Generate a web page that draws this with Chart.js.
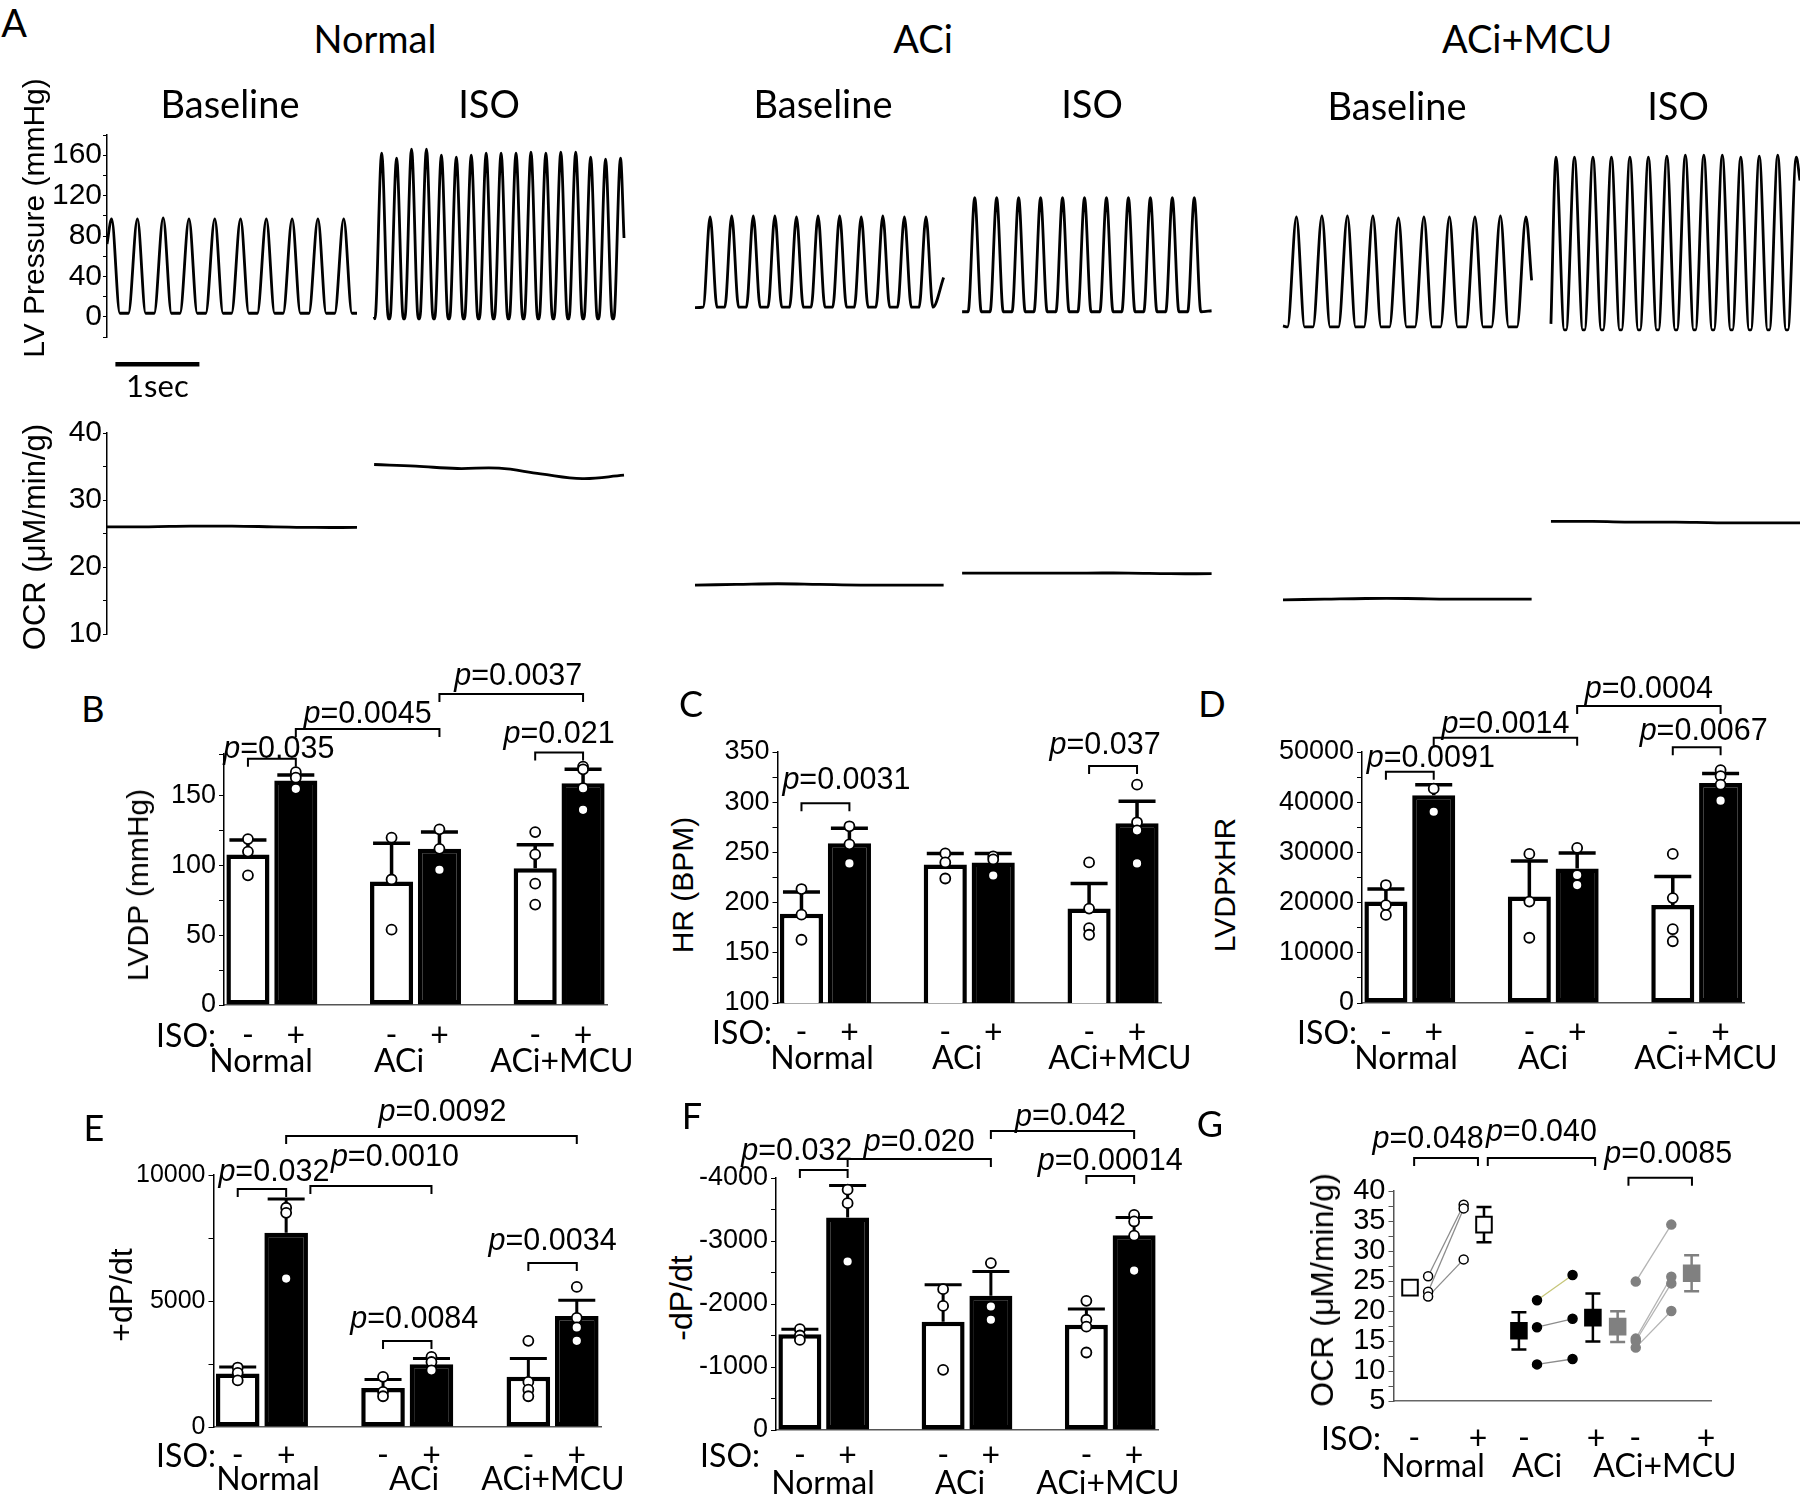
<!DOCTYPE html>
<html>
<head>
<meta charset="utf-8">
<title>LV pressure, OCR and contractility</title>
<script src="https://cdn.jsdelivr.net/npm/chart.js@4.4.1/dist/chart.umd.min.js"></script>
<style>
  body { margin: 0; background: #fff; }
  #page { position: relative; width: 1800px; height: 1494px; overflow: hidden; background: #fff; }
  canvas { position: absolute; }
  .t { position: absolute; white-space: nowrap; color: #000; line-height: 1; transform: translate(-50%, -50%); }
  .cal { font-family: Lato, "Open Sans", sans-serif; }
  .ari { font-family: "Liberation Sans", Arial, sans-serif; }
  .rot { transform: translate(-50%, -50%) rotate(-90deg); }
  .rgt { transform: translate(-100%, -50%); }
</style>
</head>
<body>
<div id="page"></div>
<script>
// ---------- values ----------
const groups = ['Normal', 'ACi', 'ACi+MCU'];
const isoSigns = ['-', '+'];

// Panel A, six recordings: Normal base/ISO, ACi base/ISO, ACi+MCU base/ISO (time in s)
const traceStart = [0, 3.18, 7.0, 10.18, 14.0, 17.19];
const traceEnd = [2.976, 6.155, 9.96, 13.15, 16.96, 20.155];
const beatFirstPeak = [0.055, 3.27, 7.18, 10.33, 14.16, 17.25];
const beatPeriod = [0.307, 0.1777, 0.257, 0.2614, 0.3036, 0.22];
const lvPeaks = [
  [97, 97, 98, 97, 97, 97, 97, 97, 97, 97],
  [162, 157, 166, 166, 160, 158, 160, 162, 162, 162, 163, 162, 163, 163, 158, 156, 157],
  [99, 100, 100, 100, 99, 100, 100, 99, 100, 99, 99],
  [118, 118, 118, 118, 118, 118, 118, 118, 118, 118, 118],
  [99, 100, 100, 100, 98, 99, 99, 99, 100, 99],
  [158, 158, 158, 158, 158, 158, 159, 160, 160, 160, 158, 159, 160, 158]
];
const lvTrough = [3.5, -2, 9.5, 5, -10, -13];
const lvStartValue = [72, 0, 9, 5, -9, -7];
const lvEndValue = [3.5, 78, 39, 6, 36, 135];
const ocrTrace = [
  [26.0, 26.0, 26.1, 26.1, 26.0, 25.9, 25.9],
  [35.3, 35.05, 34.7, 34.75, 33.9, 33.2, 33.7],
  [17.3, 17.4, 17.5, 17.4, 17.3, 17.3, 17.3],
  [19.1, 19.1, 19.1, 19.1, 19.1, 19.0, 19.0],
  [15.1, 15.2, 15.3, 15.3, 15.2, 15.2, 15.2],
  [26.8, 26.8, 26.7, 26.7, 26.6, 26.6, 26.6]
];

// Panels B-F, order: Normal -, Normal +, ACi -, ACi +, ACi+MCU -, ACi+MCU +
const lvdpMean = [108, 161, 88.5, 112, 98, 159];
const lvdpSem = [10.4, 4, 27.5, 12, 17, 10];
const lvdpDots = [[119, 110, 93], [167, 163, 155], [120, 90, 54], [126, 112, 97], [124, 108, 87, 72], [171, 169, 155.5, 140]];

const hrMean = [189, 259, 238, 240, 194, 279];
const hrSem = [21.6, 15, 11, 9, 25, 22];
const hrDots = [[213.5, 188, 163], [276, 258, 239], [249, 240, 224], [246, 243, 227], [240, 194, 174.5, 168], [317.5, 280, 272, 239]];

const rppMean = [20200, 41400, 21200, 26800, 19500, 43800];
const rppSem = [2500, 2100, 7100, 3100, 5700, 1900];
const rppDots = [[23500, 19500, 17550], [42700, 38100], [29700, 20200, 13000], [30900, 25500, 23500], [29700, 20900, 14700, 12300], [46400, 45200, 43500, 40300]];

const dpUpMean = [2120, 7710, 1550, 2490, 1990, 4400];
const dpUpSem = [260, 1340, 330, 230, 730, 630];
const dpUpDots = [[2360, 2150, 1850], [8700, 8500, 5890], [1990, 1390, 1220], [2780, 2580, 2250], [3420, 1790, 1480, 1220], [5560, 4330, 3950, 3420]];

const dpDownMean = [-1520, -3375, -1720, -2130, -1670, -3090];
const dpDownSem = [80, 505, 585, 385, 250, 285];
const dpDownDots = [[-1600, -1500, -1430], [-3815, -3600, -2675], [-2235, -1970, -955], [-2650, -1960, -1750], [-2050, -1750, -1640, -1230], [-3415, -3310, -3085, -2530]];

// Panel G, OCR (uM/min/g)
const ocrMean = [23.9, 34.4, 16.7, 18.9, 17.4, 26.3];
const ocrSem = [0.9, 2.95, 3.1, 4.0, 2.55, 3.0];
const ocrBefore = [[25.8, 23.2, 22.4], [21.8, 17.3, 11.1], [24.9, 15.4, 15.0, 13.9]];
const ocrAfter = [[37.7, 37.1, 28.6], [26.0, 18.7, 12.0], [34.4, 25.7, 24.6, 20.0]];

// p-value annotations: [label, from, to, bracket height, text height (axis units), text shift px]
const pB = [['0.035', 0, 1, 176.6, 183, 7], ['0.0045', 1, 4, 198, 208, 0], ['0.0037', 4, 7, 223, 235.5, 7], ['0.021', 6, 7, 181, 194, 0]];
const pC = [['0.0031', 0, 1, 299, 322, 21], ['0.037', 6, 7, 336, 356, -8]];
const pD = [['0.0091', 0, 1, 46076, 48740, 21], ['0.0014', 1, 4, 52850, 55380, 0], ['0.0004', 4, 7, 59160, 62490, 0], ['0.0067', 6, 7, 50930, 54050, 7]];
const pE = [['0.032', 0, 1, 9444, 10079, 12], ['0.0010', 1.5, 4, 9563, 10675, 24], ['0.0092', 1, 7, 11548, 12460, 11], ['0.0084', 3, 4, 3413, 4246, 7], ['0.0034', 6, 7, 6508, 7341, 0]];
const pF = [['0.032', 0, 1, -4127, -4413, -27], ['0.020', 1, 4, -4302, -4556, 0], ['0.042', 4, 7, -4746, -4968, 8], ['0.00014', 6, 7, -4032, -4254, 0]];
const pG = [['0.048', 0.65, 2.66, 45.5, 48.5, -18], ['0.040', 2.97, 6.35, 45.5, 49.7, 0], ['0.0085', 7.4, 9.4, 42.2, 46, 8]];

// ---------- setup ----------
Chart.defaults.font.family = '"Liberation Sans", Arial, sans-serif';
Chart.defaults.color = '#000';
Chart.defaults.animation = false;
Chart.defaults.events = [];
Chart.defaults.plugins.legend.display = false;
Chart.defaults.plugins.tooltip.enabled = false;

const page = document.getElementById('page');

function makeCanvas(x, y, w, h) {
  const c = document.createElement('canvas');
  c.width = w; c.height = h;
  c.style.left = x + 'px'; c.style.top = y + 'px';
  c.style.width = w + 'px'; c.style.height = h + 'px';
  page.appendChild(c);
  return c;
}

function addText(txt, x, y, cls, size) {
  const d = document.createElement('div');
  d.className = 't ' + cls;
  d.style.left = x + 'px'; d.style.top = y + 'px';
  d.style.fontSize = size + 'px';
  d.textContent = txt;
  page.appendChild(d);
}

const P_FONT = 30.5;
function pLabel(ctx, val, cx, cy) {
  ctx.font = 'italic ' + P_FONT + 'px "Liberation Sans"';
  const w1 = ctx.measureText('p').width;
  ctx.font = P_FONT + 'px "Liberation Sans"';
  const w2 = ctx.measureText('=' + val).width;
  const x0 = cx - (w1 + w2) / 2;
  ctx.textAlign = 'left';
  ctx.textBaseline = 'middle';
  ctx.font = 'italic ' + P_FONT + 'px "Liberation Sans"';
  ctx.fillText('p', x0, cy);
  ctx.font = P_FONT + 'px "Liberation Sans"';
  ctx.fillText('=' + val, x0 + w1, cy);
}

function drawBrackets(chart, list) {
  const { ctx, scales: { x, y } } = chart;
  ctx.save();
  ctx.strokeStyle = '#000';
  ctx.fillStyle = '#000';
  ctx.lineWidth = 2;
  list.forEach(([val, a, b, level, textLevel, dx]) => {
    const xa = x.getPixelForValue(a), xb = x.getPixelForValue(b), yt = y.getPixelForValue(level);
    ctx.beginPath();
    ctx.moveTo(xa, yt + 8); ctx.lineTo(xa, yt); ctx.lineTo(xb, yt); ctx.lineTo(xb, yt + 8);
    ctx.stroke();
    pLabel(ctx, val, (xa + xb) / 2 + dx, y.getPixelForValue(textLevel));
  });
  ctx.restore();
}

// ---------- panel A ----------
const shapeRise = [0.35, 0.45, 0.32, 0.3, 0.35, 0.45];
const shapeFall = [0.32, 0.45, 0.32, 0.3, 0.32, 0.45];

function beatPoints(k) {
  const P = beatPeriod[k], rise = shapeRise[k] * P, fall = shapeFall[k] * P;
  const pts = [{ x: traceStart[k], y: lvStartValue[k] }];
  lvPeaks[k].forEach((pk, i) => {
    const tp = beatFirstPeak[k] + i * P;
    if (tp - rise > pts[pts.length - 1].x) pts.push({ x: tp - rise, y: lvTrough[k] });
    pts.push({ x: tp, y: pk });
    if (tp + fall < traceEnd[k]) pts.push({ x: tp + fall, y: lvTrough[k] });
  });
  pts.push({ x: traceEnd[k], y: lvEndValue[k] });
  return pts;
}

function ocrPoints(k) {
  const vals = ocrTrace[k], step = (traceEnd[k] - traceStart[k]) / (vals.length - 1);
  return vals.map((v, i) => ({ x: traceStart[k] + i * step, y: v }));
}

function traceAxis(min, max, step, every, width) {
  return {
    min: min, max: max,
    afterFit: s => { s.width = width; },
    ticks: { stepSize: step, font: { size: 30 }, padding: 1, autoSkip: false,
      callback: v => (v % every === 0 && v >= 0 && v < 170) ? String(v) : '' },
    grid: { drawOnChartArea: false, tickLength: 4, color: '#000' },
    border: { color: '#000', width: 1.5 }
  };
}

const scaleBar = {
  id: 'scaleBar',
  afterDraw(chart) {
    const { ctx, scales: { x } } = chart;
    const x0 = x.getPixelForValue(0.1), x1 = x.getPixelForValue(1.1);
    ctx.save();
    ctx.fillStyle = '#000';
    ctx.fillRect(x0, 262, x1 - x0, 4.5);
    ctx.font = '31px Lato';
    ctx.textAlign = 'center';
    ctx.textBaseline = 'middle';
    ctx.fillText('1sec', (x0 + x1) / 2, 287);
    ctx.restore();
  }
};

new Chart(makeCanvas(0, 100, 1800, 300), {
  type: 'line',
  data: { datasets: lvPeaks.map((p, k) => ({
    data: beatPoints(k), borderColor: '#000', borderWidth: 2.8, pointRadius: 0,
    cubicInterpolationMode: 'monotone', borderJoinStyle: 'round'
  })) },
  options: {
    responsive: false, devicePixelRatio: 1,
    layout: { padding: { top: 35, bottom: 63, left: 0, right: 0 } },
    scales: {
      x: { type: 'linear', min: 0, max: 20.155, display: false },
      y: traceAxis(-20, 180, 20, 40, 107)
    }
  },
  plugins: [scaleBar]
});

new Chart(makeCanvas(0, 400, 1800, 260), {
  type: 'line',
  data: { datasets: ocrTrace.map((v, k) => ({
    data: ocrPoints(k), borderColor: '#000', borderWidth: 2.8, pointRadius: 0, tension: 0.4
  })) },
  options: {
    responsive: false, devicePixelRatio: 1,
    layout: { padding: { top: 33, bottom: 26, left: 0, right: 0 } },
    scales: {
      x: { type: 'linear', min: 0, max: 20.155, display: false },
      y: traceAxis(10, 40, 5, 10, 107)
    }
  }
});

// ---------- panels B-F ----------
const slotLabels = [];
groups.forEach((g, gi) => {
  if (gi) slotLabels.push(' '.repeat(gi));
  isoSigns.forEach(s => slotLabels.push(g + ' ' + s));
});
const slotOf = i => i + Math.floor(i / 2);
const toSlots = arr => slotLabels.map((l, s) => {
  const i = s - Math.floor(s / 3);
  return l.trim() === '' ? null : arr[i];
});
const signOf = l => l.endsWith('-') ? '-' : (l.endsWith('+') ? '+' : '');

function makeBarPanel(p) {
  const [left, top, w, h] = p.box;
  const extras = {
    id: 'extras' + p.name,
    afterDatasetDraw(chart, args) {
      if (args.index !== 1) return;
      const { ctx, scales: { x, y } } = chart;
      ctx.save();
      ctx.strokeStyle = '#000';
      ctx.lineWidth = p.errLine;
      p.mean.forEach((m, i) => {
        const tip = m < 0 ? m - p.sem[i] : m + p.sem[i];
        const px = x.getPixelForValue(slotOf(i));
        const y0 = y.getPixelForValue(m), y1 = y.getPixelForValue(tip);
        ctx.beginPath();
        ctx.moveTo(px, y0); ctx.lineTo(px, y1);
        ctx.moveTo(px - 18.5, y1); ctx.lineTo(px + 18.5, y1);
        ctx.stroke();
      });
      ctx.restore();
    },
    afterDraw(chart) { drawBrackets(chart, p.brackets); }
  };
  const dots = [];
  p.dots.forEach((list, i) => list.forEach(v => dots.push({ x: slotLabels[slotOf(i)], y: v })));
  new Chart(makeCanvas(left, top, w, h), {
    type: 'bar',
    data: {
      labels: slotLabels,
      datasets: [
        { type: 'scatter', data: dots, pointRadius: 5, pointBackgroundColor: '#fff',
          pointBorderColor: '#000', pointBorderWidth: 1.8 },
        { data: toSlots(p.mean), backgroundColor: c => (c.dataIndex % 3 === 0 ? '#fff' : '#000'),
          borderColor: '#000', borderWidth: 4.5, borderSkipped: false,
          barPercentage: 0.9, categoryPercentage: 1 }
      ]
    },
    options: {
      responsive: false, devicePixelRatio: 1,
      layout: { padding: { top: p.padTop, right: p.padRight, left: 0, bottom: 0 } },
      scales: {
        x: {
          afterFit: s => { s.height = p.axisH; },
          grid: { display: false, drawTicks: false },
          border: { color: '#555', width: 1.5 },
          ticks: { font: { family: 'Lato', size: 32 }, padding: p.tickPad, maxRotation: 0,
            autoSkip: false, callback: (v, i) => signOf(slotLabels[i]) }
        },
        y: {
          min: p.min, max: p.max, reverse: !!p.reverse,
          afterFit: s => { s.width = p.axisW; },
          ticks: { stepSize: p.step, font: { size: p.tickFont }, padding: 3, autoSkip: false,
            callback: v => (v % p.major === 0 ? String(v) : '') },
          grid: { drawOnChartArea: false, tickLength: 5, color: '#000' },
          border: { color: '#000', width: 1.5 }
        }
      }
    },
    plugins: [extras]
  });
}

makeBarPanel({ name: 'B', mean: lvdpMean, sem: lvdpSem, dots: lvdpDots, brackets: pB,
  box: [110, 650, 510, 440], axisW: 114, axisH: 85, padTop: 104, padRight: 13, tickPad: 11,
  min: 0, max: 180, step: 25, major: 50, errLine: 3.5, tickFont: 27 });
makeBarPanel({ name: 'C', mean: hrMean, sem: hrSem, dots: hrDots, brackets: pC,
  box: [700, 650, 475, 440], axisW: 77.5, axisH: 87, padTop: 102, padRight: 14, tickPad: 10,
  min: 100, max: 350, step: 25, major: 50, errLine: 3.5, tickFont: 27 });
makeBarPanel({ name: 'D', mean: rppMean, sem: rppSem, dots: rppDots, brackets: pD,
  box: [1260, 650, 540, 440], axisW: 102, axisH: 87, padTop: 102, padRight: 55.5, tickPad: 10,
  min: 0, max: 50000, step: 5000, major: 10000, errLine: 3.5, tickFont: 27 });
makeBarPanel({ name: 'E', mean: dpUpMean, sem: dpUpSem, dots: dpUpDots, brackets: pE,
  box: [110, 1090, 510, 404], axisW: 103.5, axisH: 67, padTop: 85, padRight: 19, tickPad: 9,
  min: 0, max: 10000, step: 2500, major: 5000, errLine: 3, tickFont: 25 });
makeBarPanel({ name: 'F', mean: dpDownMean, sem: dpDownSem, dots: dpDownDots, brackets: pF,
  box: [700, 1090, 520, 404], axisW: 76, axisH: 64, padTop: 88, padRight: 62, tickPad: 6,
  min: -4000, max: 0, step: 500, major: 1000, reverse: true, errLine: 3, tickFont: 27 });

// ---------- panel G ----------
const gGroupX = [0.52, 3.95, 7.06];
const gSlotDx = [0, 0.57, 1.69, 2.33];
const gSignPos = [0.65, 2.66, 4.11, 6.38, 7.61, 9.84];
const gColor = ['#000', '#000', '#808080'];
const gFill = ['#fff', '#000', '#808080'];
const gPairColor = [['#8c8c8c', '#8c8c8c', '#8c8c8c'], ['#c6c67a', '#8c8c8c', '#8c8c8c'], ['#b4b4b4', '#b4b4b4', '#b4b4b4', '#b4b4b4']];
const gX = (g, slot) => gGroupX[g] + gSlotDx[slot];

const gSets = [];
groups.forEach((g, gi) => gSets.push({
  data: [{ x: gX(gi, 0), y: ocrMean[2 * gi] }, { x: gX(gi, 3), y: ocrMean[2 * gi + 1] }],
  pointStyle: 'rect', pointRadius: 11, pointBackgroundColor: gFill[gi],
  pointBorderColor: gColor[gi], pointBorderWidth: 2
}));
groups.forEach((g, gi) => gSets.push({
  data: ocrBefore[gi].map(v => ({ x: gX(gi, 1), y: v })).concat(ocrAfter[gi].map(v => ({ x: gX(gi, 2), y: v }))),
  pointRadius: 4.5, pointBackgroundColor: gFill[gi], pointBorderColor: gColor[gi], pointBorderWidth: 1.5
}));
groups.forEach((g, gi) => ocrBefore[gi].forEach((v, k) => gSets.push({
  type: 'line', data: [{ x: gX(gi, 1), y: v }, { x: gX(gi, 2), y: ocrAfter[gi][k] }],
  borderColor: gPairColor[gi][k], borderWidth: 1.3, pointRadius: 0
})));

const gExtras = {
  id: 'gExtras',
  beforeDatasetsDraw(chart) {
    const { ctx, scales: { x, y } } = chart;
    ctx.save();
    ctx.lineWidth = 2.5;
    ocrMean.forEach((m, i) => {
      const gi = Math.floor(i / 2), px = x.getPixelForValue(gX(gi, i % 2 ? 3 : 0));
      const y1 = y.getPixelForValue(m + ocrSem[i]), y2 = y.getPixelForValue(m - ocrSem[i]);
      ctx.strokeStyle = gColor[gi];
      ctx.beginPath();
      ctx.moveTo(px, y1); ctx.lineTo(px, y2);
      ctx.moveTo(px - 7.5, y1); ctx.lineTo(px + 7.5, y1);
      ctx.moveTo(px - 7.5, y2); ctx.lineTo(px + 7.5, y2);
      ctx.stroke();
    });
    ctx.restore();
  },
  afterDraw(chart) { drawBrackets(chart, pG); }
};

new Chart(makeCanvas(1290, 1090, 460, 404), {
  type: 'scatter',
  data: { datasets: gSets },
  options: {
    responsive: false, devicePixelRatio: 1,
    layout: { padding: { top: 101, right: 39, left: 0, bottom: 0 } },
    scales: {
      x: {
        type: 'linear', min: 0, max: 10,
        afterFit: s => { s.height = 93; },
        afterBuildTicks: s => { s.ticks = gSignPos.map(v => ({ value: v })); },
        grid: { display: false, drawTicks: false },
        border: { color: '#666', width: 1.5 },
        ticks: { font: { family: 'Lato', size: 32 }, padding: 18, maxRotation: 0, autoSkip: false,
          callback: (v, i) => isoSigns[i % 2] }
      },
      y: {
        min: 5, max: 40,
        afterFit: s => { s.width = 103.5; },
        ticks: { stepSize: 2.5, font: { size: 29 }, padding: 3, autoSkip: false,
          callback: v => (v % 5 === 0 ? String(v) : '') },
        grid: { drawOnChartArea: false, tickLength: 5, color: '#555' },
        border: { color: '#555', width: 1.5 }
      }
    }
  },
  plugins: [gExtras]
});

// ---------- text ----------
addText('A', 14, 22, 'cal', 38);
[[375, 38], [923, 38], [1527, 38]].forEach(([x, y], i) => addText(groups[i], x, y, 'cal', 38));
[[230, 103, 'Baseline'], [489, 103, 'ISO'], [823, 103, 'Baseline'], [1092, 103, 'ISO'],
 [1397, 105, 'Baseline'], [1678, 105, 'ISO']].forEach(([x, y, s]) => addText(s, x, y, 'cal', 38));

[['LV Pressure (mmHg)', 33.5, 218, 30], ['OCR (\u03bcM/min/g)', 34, 537, 31],
 ['LVDP (mmHg)', 138, 885, 30], ['HR (BPM)', 683, 885, 30], ['LVDPxHR', 1225, 885, 30],
 ['+dP/dt', 121, 1295, 32], ['-dP/dt', 681, 1298, 32], ['OCR (\u03bcM/min/g)', 1322, 1290, 32]]
  .forEach(([s, x, y, f]) => addText(s, x, y, 'ari rot', f));

[['B', 93, 708], ['C', 691, 703], ['D', 1212, 703], ['E', 94, 1127], ['F', 692, 1115], ['G', 1210, 1123]]
  .forEach(([s, x, y]) => addText(s, x, y, 'cal', 36));

[[216, 1035], [772, 1032], [1357, 1032], [216, 1455], [760, 1455], [1381, 1438]]
  .forEach(([x, y]) => addText('ISO:', x, y, 'cal rgt', 32));

const groupLabelPos = [
  [[261, 1060], [399, 1060], [562, 1060]],
  [[822, 1057], [957, 1057], [1120, 1057]],
  [[1406, 1057], [1543, 1057], [1706, 1057]],
  [[268, 1478], [414, 1478], [553, 1478]],
  [[823, 1482], [960, 1482], [1108, 1482]],
  [[1433, 1465], [1537, 1465], [1665, 1465]]
];
groupLabelPos.forEach(row => row.forEach(([x, y], i) => addText(groups[i], x, y, 'cal', 32)));
</script>
</body>
</html>
